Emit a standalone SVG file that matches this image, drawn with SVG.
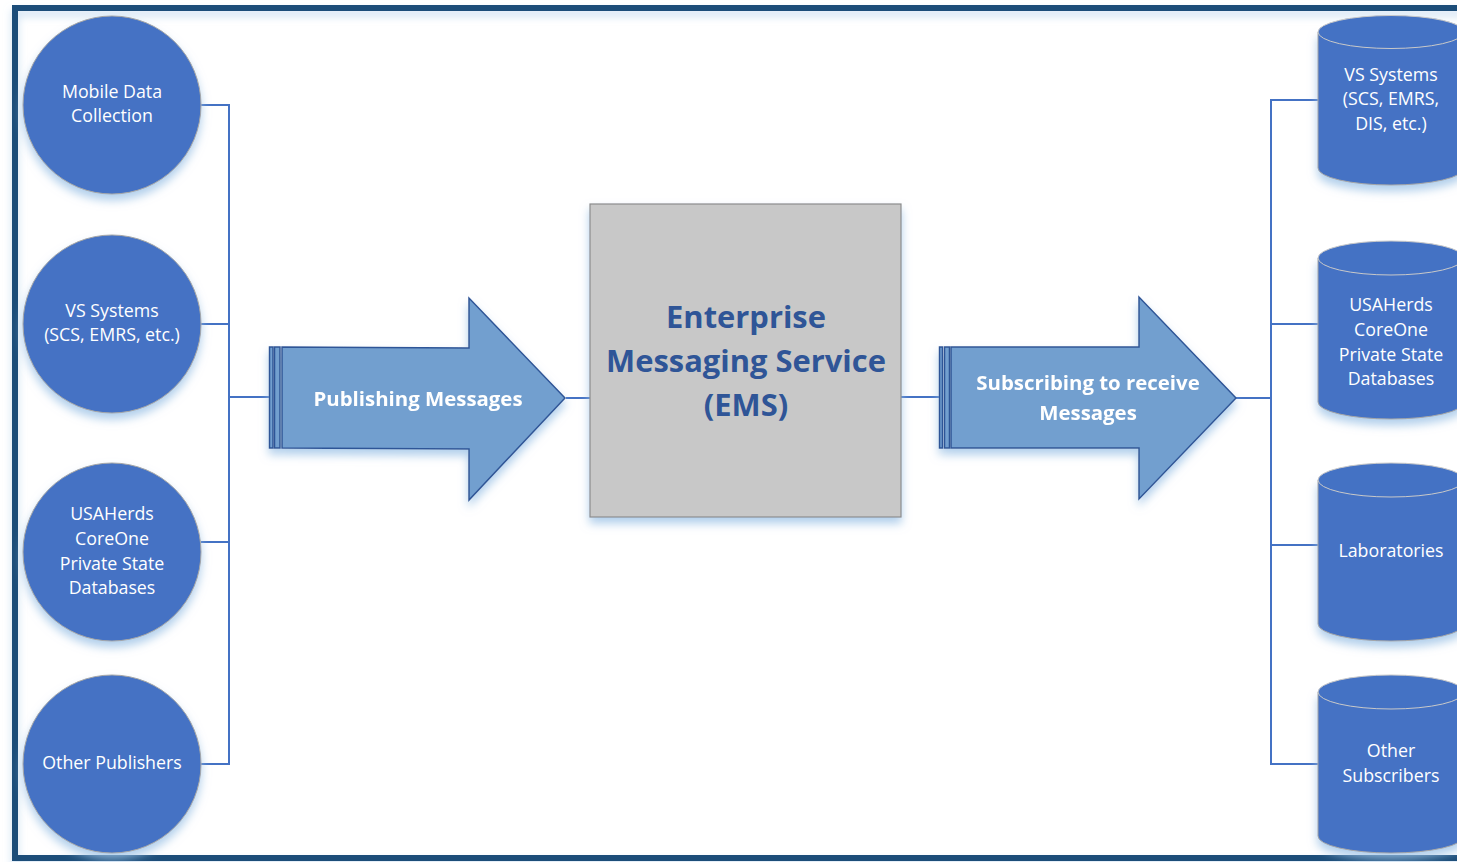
<svg xmlns="http://www.w3.org/2000/svg" width="1457" height="862" viewBox="0 0 1457 862">
<defs>
<filter id="sh" x="-20%" y="-20%" width="140%" height="150%">
<feDropShadow dx="0" dy="6" stdDeviation="5" flood-color="#9DC3E6" flood-opacity="0.8"/>
</filter>
<filter id="fsh" x="-5%" y="-5%" width="110%" height="110%">
<feDropShadow dx="0" dy="5" stdDeviation="4" flood-color="#BDD7EE" flood-opacity="0.8"/>
</filter>
<style>
.node{fill:#4472C4;stroke:#A6A6A6;stroke-width:1}
.lbl{font-family:"Open Sans","Liberation Sans",sans-serif;font-size:17.8px;fill:#FFFFFF;text-anchor:middle}
.conn{fill:none;stroke:#4472C4;stroke-width:2}
.arrow{fill:#729FCF;stroke:#2F5597;stroke-width:1.5}
.albl{font-family:"Open Sans","Liberation Sans",sans-serif;font-size:20.4px;font-weight:bold;fill:#FFFFFF;text-anchor:middle}
.ems{font-family:"Open Sans","Liberation Sans",sans-serif;font-size:30.9px;font-weight:bold;fill:#2F5597;text-anchor:middle}
.ctop{fill:#4472C4;stroke:#C9C9C9;stroke-width:1}
</style>
</defs>
<rect width="1457" height="862" fill="#FFFFFF"/>
<rect x="15" y="8" width="1460" height="850" fill="none" stroke="#1F4E79" stroke-width="6" filter="url(#fsh)"/>

<g id="connectors">
<polyline class="conn" points="201,105 229,105 229,764 201,764"/>
<line class="conn" x1="201" y1="324" x2="229" y2="324"/>
<line class="conn" x1="201" y1="542" x2="229" y2="542"/>
<line class="conn" x1="229" y1="397" x2="258" y2="397" stroke-width="2.5"/>
<line class="conn" x1="258" y1="397" x2="270" y2="397" stroke-width="1.2"/>
<line class="conn" x1="566" y1="398" x2="590" y2="398" stroke-width="1.2"/>
<line class="conn" x1="901" y1="397" x2="939" y2="397" stroke-width="1.2"/>
<line class="conn" x1="1236" y1="398" x2="1271" y2="398" stroke-width="2.5"/>
<polyline class="conn" points="1318,100 1271,100 1271,764 1318,764"/>
<line class="conn" x1="1271" y1="324" x2="1318" y2="324"/>
<line class="conn" x1="1271" y1="545" x2="1318" y2="545"/>
</g>

<g id="pub-mobile">
<circle class="node" cx="112" cy="105" r="89" filter="url(#sh)"/>
<text class="lbl" x="112" y="98">Mobile Data</text>
<text class="lbl" x="112" y="122">Collection</text>
</g>
<g id="pub-vs">
<circle class="node" cx="112" cy="324" r="89" filter="url(#sh)"/>
<text class="lbl" x="112" y="317">VS Systems</text>
<text class="lbl" x="112" y="341">(SCS, EMRS, etc.)</text>
</g>
<g id="pub-usaherds">
<circle class="node" cx="112" cy="552" r="89" filter="url(#sh)"/>
<text class="lbl" x="112" y="520">USAHerds</text>
<text class="lbl" x="112" y="545">CoreOne</text>
<text class="lbl" x="112" y="570">Private State</text>
<text class="lbl" x="112" y="594">Databases</text>
</g>
<g id="pub-other">
<circle class="node" cx="112" cy="764" r="89" filter="url(#sh)"/>
<text class="lbl" x="112" y="769">Other Publishers</text>
</g>

<g id="arrow-publish" filter="url(#sh)">
<rect class="arrow" x="269.5" y="347" width="3.5" height="101"/>
<rect class="arrow" x="274.5" y="347" width="5.5" height="101"/>
<polygon class="arrow" points="282,347 469,348 469,298 565,398 469,500 469,449 282,448"/>
<text class="albl" x="418" y="406">Publishing Messages</text>
</g>

<g id="ems">
<rect x="590" y="204" width="311" height="313" fill="#C8C8C8" stroke="#8C8C8C" stroke-width="1.2" filter="url(#sh)"/>
<text class="ems" x="746" y="328">Enterprise</text>
<text class="ems" x="746" y="372">Messaging Service</text>
<text class="ems" x="746" y="416">(EMS)</text>
</g>

<g id="arrow-subscribe" filter="url(#sh)">
<rect class="arrow" x="939.5" y="347" width="3" height="101"/>
<rect class="arrow" x="944.5" y="347" width="5" height="101"/>
<polygon class="arrow" points="951,347 1139,347 1139,297 1236,398 1139,499 1139,448 951,448"/>
<text class="albl" x="1088" y="390">Subscribing to receive</text>
<text class="albl" x="1088" y="420">Messages</text>
</g>

<g id="sub-vs">
<path class="node" d="M1318,32 L1318,168 A73,17 0 0 0 1464,168 L1464,32 Z" filter="url(#sh)"/>
<ellipse class="ctop" cx="1391" cy="32" rx="73" ry="16.5"/>
<text class="lbl" x="1391" y="81">VS Systems</text>
<text class="lbl" x="1391" y="105">(SCS, EMRS,</text>
<text class="lbl" x="1391" y="130">DIS, etc.)</text>
</g>
<g id="sub-usaherds">
<path class="node" d="M1318,258 L1318,402 A73,17 0 0 0 1464,402 L1464,258 Z" filter="url(#sh)"/>
<ellipse class="ctop" cx="1391" cy="258" rx="73" ry="17"/>
<text class="lbl" x="1391" y="311">USAHerds</text>
<text class="lbl" x="1391" y="336">CoreOne</text>
<text class="lbl" x="1391" y="361">Private State</text>
<text class="lbl" x="1391" y="385">Databases</text>
</g>
<g id="sub-labs">
<path class="node" d="M1318,480 L1318,624 A73,17 0 0 0 1464,624 L1464,480 Z" filter="url(#sh)"/>
<ellipse class="ctop" cx="1391" cy="480" rx="73" ry="17"/>
<text class="lbl" x="1391" y="557">Laboratories</text>
</g>
<g id="sub-other">
<path class="node" d="M1318,692 L1318,836 A73,17 0 0 0 1464,836 L1464,692 Z" filter="url(#sh)"/>
<ellipse class="ctop" cx="1391" cy="692" rx="73" ry="17"/>
<text class="lbl" x="1391" y="757">Other</text>
<text class="lbl" x="1391" y="782">Subscribers</text>
</g>
</svg>
